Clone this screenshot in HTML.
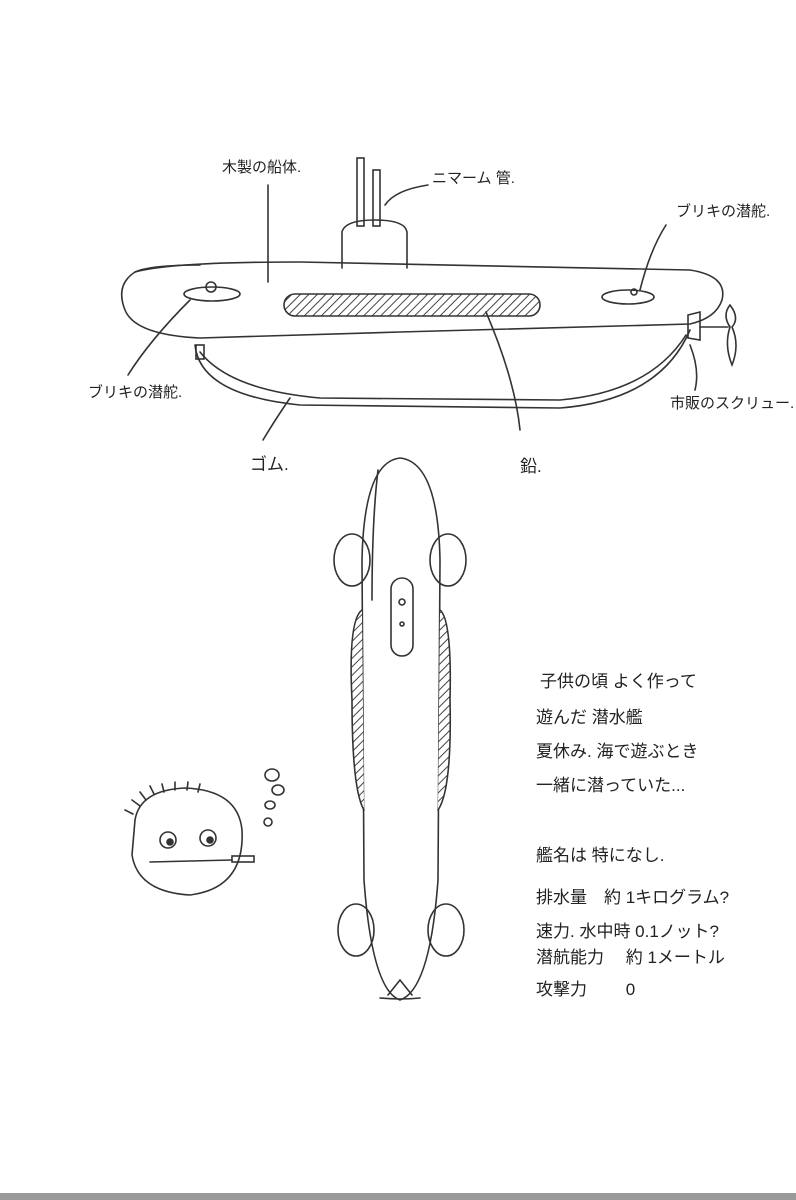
<!DOCTYPE html>
<html><head><meta charset="utf-8"><style>
html,body{margin:0;padding:0;background:#fff;}
svg{display:block}
text{font-family:"Liberation Sans","Noto Sans CJK JP",sans-serif;fill:#222;}
</style></head><body>
<svg width="796" height="1200" viewBox="0 0 796 1200" xmlns="http://www.w3.org/2000/svg">
<defs>
<pattern id="h" width="6" height="6" patternUnits="userSpaceOnUse" patternTransform="rotate(45)">
<rect width="6" height="6" fill="#fff"/><line x1="0" y1="0" x2="0" y2="6" stroke="#444" stroke-width="2"/></pattern>
</defs>
<g fill="none" stroke="#333" stroke-width="1.6" stroke-linecap="round">
<!-- periscopes -->
<rect x="357" y="158" width="7" height="68"/>
<rect x="373" y="170" width="7" height="56"/>
<!-- conning tower -->
<path d="M342 268 L342 232 Q345 220 375 220 Q405 220 407 232 L407 268"/>
<!-- hull -->
<path d="M125 310 Q115 285 135 272 Q170 262 300 262 L690 270 Q728 276 722 300 Q716 318 690 324 L400 332 L200 338 Q135 335 125 310Z"/>
<path d="M135 272 Q150 265 200 265" />
<!-- window hatched -->
<rect x="284" y="294" width="256" height="22" rx="11" fill="url(#h)"/>
<!-- dive planes -->
<ellipse cx="212" cy="294" rx="28" ry="7"/>
<circle cx="211" cy="287" r="5"/>
<ellipse cx="628" cy="297" rx="26" ry="7"/>
<circle cx="634" cy="292" r="3"/>
<!-- rubber balloon -->
<path d="M195 345 Q200 395 300 405 L560 408 Q660 400 690 330"/>
<path d="M200 352 Q230 390 320 398 L560 400 Q650 392 686 335"/>
<rect x="196" y="345" width="8" height="14"/>
<!-- propeller -->
<path d="M688 315 L700 312 L700 340 L688 338Z"/>
<line x1="700" y1="327" x2="728" y2="327"/>
<path d="M730 305 Q740 318 732 327 Q740 345 732 365 Q724 345 730 327 Q722 315 730 305Z"/>
<!-- leaders -->
<line x1="268" y1="185" x2="268" y2="282"/>
<path d="M428 185 Q395 190 385 205"/>
<path d="M666 225 Q650 250 640 290"/>
<path d="M190 300 Q150 340 128 375"/>
<path d="M486 312 Q515 380 520 430"/>
<path d="M290 398 Q275 420 263 440"/>
<path d="M690 345 Q700 370 695 390"/>

<!-- top view -->
<path d="M400 458 Q438 462 440 560 L438 880 Q430 990 400 1000 Q372 990 364 880 L362 560 Q364 462 400 458Z"/>
<path d="M378 470 Q372 520 372 600"/>
<ellipse cx="352" cy="560" rx="18" ry="26"/>
<ellipse cx="448" cy="560" rx="18" ry="26"/>
<ellipse cx="356" cy="930" rx="18" ry="26"/>
<ellipse cx="446" cy="930" rx="18" ry="26"/>
<path d="M362 610 Q348 620 352 700 Q352 790 364 810" fill="url(#h)"/>
<path d="M440 610 Q452 620 450 700 Q452 790 438 810" fill="url(#h)"/>
<rect x="391" y="578" width="22" height="78" rx="11"/>
<circle cx="402" cy="602" r="3"/>
<circle cx="402" cy="624" r="2"/>
<path d="M388 995 L400 980 L412 995 M380 998 Q400 1000 420 998"/>

<!-- face -->
<path d="M135 820 Q140 790 185 788 Q238 790 242 830 Q245 888 190 895 Q138 892 132 855Z"/>
<path d="M125 810 l8 4 M132 800 l8 6 M140 792 l6 8 M150 786 l4 8 M162 784 l2 8 M175 782 l0 8 M188 782 l-1 8 M200 784 l-2 8"/>
<circle cx="168" cy="840" r="8"/><circle cx="170" cy="842" r="3" fill="#333"/>
<circle cx="208" cy="838" r="8"/><circle cx="210" cy="840" r="3" fill="#333"/>
<line x1="150" y1="862" x2="232" y2="860"/>
<rect x="232" y="856" width="22" height="6"/>
<ellipse cx="272" cy="775" rx="7" ry="6"/>
<ellipse cx="278" cy="790" rx="6" ry="5"/>
<ellipse cx="270" cy="805" rx="5" ry="4"/>
<ellipse cx="268" cy="822" rx="4" ry="4"/>
</g>

<g font-size="15">
<text x="222" y="172">木製の船体.</text>
<text x="432" y="183">ニマーム 管.</text>
<text x="676" y="216">ブリキの潜舵.</text>
<text x="88" y="397">ブリキの潜舵.</text>
<text x="670" y="408">市販のスクリュー.</text>
<text x="250" y="470" font-size="17">ゴム.</text>
<text x="520" y="472" font-size="17">鉛.</text>
</g>
<g font-size="17">
<text x="540" y="687">子供の頃 よく作って</text>
<text x="536" y="723">遊んだ 潜水艦</text>
<text x="536" y="757">夏休み. 海で遊ぶとき</text>
<text x="536" y="791">一緒に潜っていた...</text>
<text x="536" y="861">艦名は 特になし.</text>
<text x="536" y="903">排水量　約 1キログラム?</text>
<text x="536" y="937">速力. 水中時 0.1ノット?</text>
<text x="536" y="963">潜航能力　 約 1メートル</text>
<text x="536" y="995">攻撃力　　 0</text>
</g>
<rect x="0" y="1193" width="796" height="7" fill="#999"/>
</svg>
</body></html>
